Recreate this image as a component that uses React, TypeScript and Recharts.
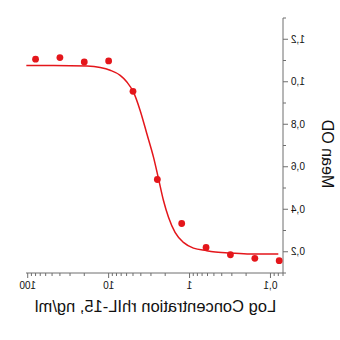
import React from 'react';
import { ComposedChart, Line, Scatter, XAxis, YAxis } from 'recharts';

// measured points (ng/ml vs mean OD)
const concentrations = [80, 40, 20, 10, 5, 2.5, 1.25, 0.625, 0.3125, 0.156, 0.078];
const meanOD = [1.106, 1.114, 1.093, 1.098, 0.955, 0.54, 0.333, 0.22, 0.186, 0.169, 0.158];

// fitted curve
const fitConc = [0.08, 0.179, 0.315, 0.512, 0.612, 0.895, 1.19, 1.51, 1.82, 2.1, 2.43, 2.79, 3.37, 4.08, 4.93, 5.95, 7.2, 9.57, 12.7, 18.5, 48, 104];
const fitOD = [0.189, 0.189, 0.194, 0.2, 0.205, 0.217, 0.244, 0.291, 0.362, 0.441, 0.547, 0.645, 0.755, 0.865, 0.951, 0.999, 1.03, 1.054, 1.067, 1.074, 1.077, 1.077];

const xTicks = [0.07, 0.08, 0.09, 0.1, 0.2, 0.3, 0.4, 0.5, 0.6, 0.7, 0.8, 0.9, 1, 2, 3, 4, 5, 6, 7, 8, 9, 10, 20, 30, 40, 50, 60, 70, 80, 90, 100];
const xMajor: Record<string, string> = { '0.1': '0,1', '1': '1', '10': '10', '100': '100' };
const yTicks = [0.1, 0.2, 0.3, 0.4, 0.5, 0.6, 0.7, 0.8, 0.9, 1.0, 1.1, 1.2, 1.3];
const yMajor: Record<string, string> = { '0.2': '0,2', '0.4': '0,4', '0.6': '0,6', '0.8': '0,8', '1': '1,0', '1.2': '1,2' };

const points = concentrations.map((c, i) => ({ conc: c, od: meanOD[i] }));
const fit = fitConc.map((c, i) => ({ conc: c, od: fitOD[i] }));

const RED = '#e4161b';
const AXIS = '#6e6e6e';
const FONT = '"Liberation Sans", Arial, sans-serif';

const XTick = (props: any) => {
  const { x, y, payload } = props;
  const label = xMajor[String(payload.value)];
  return (
    <g>
      <line x1={x} y1={y} x2={x} y2={y + (label ? 5 : 3)} stroke={AXIS} />
      {label && (
        <text x={x} y={y + 16} textAnchor="middle" fontSize={10} fill="#111" fontFamily={FONT}>
          {label}
        </text>
      )}
    </g>
  );
};

const YTick = (props: any) => {
  const { x, y, payload } = props;
  const label = yMajor[String(payload.value)];
  return (
    <g>
      <line x1={x} y1={y} x2={x - (label ? 5 : 3)} y2={y} stroke={AXIS} />
      {label && (
        <text x={x - 8} y={y} dy="0.35em" textAnchor="end" fontSize={10} fill="#111" fontFamily={FONT}>
          {label}
        </text>
      )}
    </g>
  );
};

const XTitle = (props: any) => {
  const { viewBox } = props;
  return (
    <text x={viewBox.x + viewBox.width / 2 - 1} y={312} textAnchor="middle" fontSize={16.5} fill="#111" fontFamily={FONT}>
      Log Concentration rhIL-15, ng/ml
    </text>
  );
};

const YTitle = () => (
  <text x={13} y={154} transform="rotate(-90, 13, 154)" textAnchor="middle" dominantBaseline="central" fontSize={16} fill="#111" fontFamily={FONT}>
    Mean OD
  </text>
);

export default function App() {
  return (
    <div style={{ position: 'absolute', left: 0, top: 0, width: 340, height: 340, background: '#fff', transform: 'scaleX(-1)' }}>
      <ComposedChart width={340} height={340} margin={{ top: 18, right: 26, bottom: 0, left: 0 }}>
        <XAxis
          dataKey="conc"
          type="number"
          scale="log"
          domain={[0.07, 105]}
          allowDataOverflow
          ticks={xTicks}
          interval={0}
          height={67}
          stroke={AXIS}
          tickLine={false}
          tickSize={0}
          tickMargin={0}
          tick={<XTick />}
          label={<XTitle />}
        />
        <YAxis
          dataKey="od"
          type="number"
          domain={[0.1, 1.3]}
          allowDataOverflow
          ticks={yTicks}
          interval={0}
          width={57}
          stroke={AXIS}
          tickLine={false}
          tickSize={0}
          tickMargin={0}
          tick={<YTick />}
          label={<YTitle />}
        />
        <Line data={fit} dataKey="od" type="monotone" stroke={RED} strokeWidth={1.5} dot={false} isAnimationActive={false} />
        <Scatter data={points} dataKey="od" fill={RED} shape={(p: any) => <circle cx={p.cx} cy={p.cy} r={3.4} fill={RED} />} isAnimationActive={false} />
      </ComposedChart>
    </div>
  );
}
